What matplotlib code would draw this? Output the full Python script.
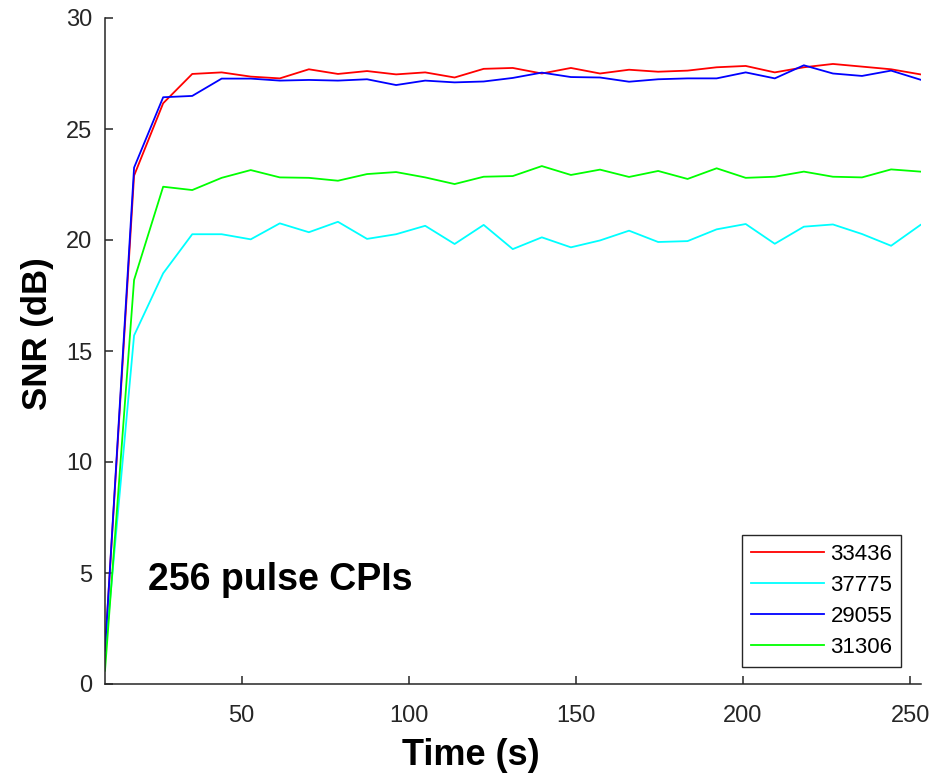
import numpy as np
import matplotlib.pyplot as plt

plt.rcParams['font.family'] = ['Liberation Sans', 'DejaVu Sans']

# time axis (s), one sample per CPI
time_s = [9.1, 17.8, 26.5, 35.2, 44.0, 52.7, 61.4, 70.1, 78.8, 87.5,
          96.2, 104.9, 113.7, 122.4, 131.1, 139.8, 148.5, 157.2, 165.9, 174.6,
          183.4, 192.1, 200.8, 209.5, 218.2, 226.9, 235.6, 244.3, 253.1]

snr_33436 = [1.5, 22.9, 26.16, 27.48, 27.55, 27.36, 27.28, 27.69, 27.48, 27.61,
             27.46, 27.55, 27.32, 27.71, 27.75, 27.5, 27.75, 27.5, 27.67, 27.58,
             27.63, 27.78, 27.84, 27.55, 27.78, 27.93, 27.81, 27.69, 27.46]
snr_37775 = [1.3, 15.7, 18.5, 20.26, 20.26, 20.03, 20.75, 20.35, 20.82, 20.05,
             20.26, 20.64, 19.82, 20.68, 19.59, 20.12, 19.67, 19.98, 20.42, 19.91,
             19.95, 20.48, 20.72, 19.83, 20.6, 20.7, 20.27, 19.74, 20.68]
snr_29055 = [1.5, 23.26, 26.43, 26.49, 27.27, 27.27, 27.18, 27.21, 27.18, 27.24,
             26.98, 27.18, 27.1, 27.14, 27.3, 27.54, 27.34, 27.32, 27.13, 27.24,
             27.28, 27.28, 27.55, 27.28, 27.87, 27.5, 27.39, 27.63, 27.22]
snr_31306 = [0.6, 18.2, 22.4, 22.25, 22.8, 23.15, 22.82, 22.8, 22.67, 22.97,
             23.06, 22.82, 22.52, 22.85, 22.88, 23.33, 22.93, 23.17, 22.84, 23.11,
             22.75, 23.23, 22.8, 22.85, 23.08, 22.85, 22.82, 23.18, 23.08]

series = [("33436", snr_33436, "#ff0000"),
          ("37775", snr_37775, "#00ffff"),
          ("29055", snr_29055, "#0000ff"),
          ("31306", snr_31306, "#00ff00")]

fig = plt.figure(figsize=(9.35, 7.8), dpi=100)
ax = fig.add_axes([105 / 935, 96 / 780, 815.5 / 935, 666 / 780])

for name, vals, col in series:
    ax.plot(time_s, vals, color=col, lw=1.3, label=name)

ax.set_xlim(time_s[0], time_s[-1])
ax.set_ylim(0, 30)
ax.set_xticks([50, 100, 150, 200, 250])
ax.set_yticks([0, 5, 10, 15, 20, 25, 30])

dark = "#262626"
for s in ["top", "right"]:
    ax.spines[s].set_visible(False)
for s in ["left", "bottom"]:
    ax.spines[s].set_color(dark)
    ax.spines[s].set_linewidth(1.1)
ax.tick_params(direction="in", length=5.5, width=1.1, color=dark,
               labelcolor=dark, labelsize=17)
ax.tick_params(axis="x", pad=15)
ax.tick_params(axis="y", pad=9)

ax.set_xlabel("Time (s)", fontsize=26, fontweight="bold")
ax.set_ylabel("SNR (dB)", fontsize=25, fontweight="bold")
ax.xaxis.set_label_coords(0.448, -0.108)
ax.yaxis.set_label_coords(-0.083, 0.526)
ax.xaxis.label.set_va("center")
ax.yaxis.label.set_va("center")

ax.text(21.9, 4.23, "256 pulse CPIs", fontsize=27, fontweight="bold",
        va="baseline", ha="left")

leg = ax.legend(loc="upper left", bbox_to_anchor=(741.7 / 935, 1 - 535 / 780),
                bbox_transform=fig.transFigure, fontsize=16, frameon=True,
                fancybox=False, framealpha=1, edgecolor=dark,
                handlelength=3.3, handletextpad=0.3, labelspacing=0.45,
                borderpad=0.4, borderaxespad=0)
leg.get_frame().set_linewidth(1.0)

fig.savefig("out.png", dpi=100)
